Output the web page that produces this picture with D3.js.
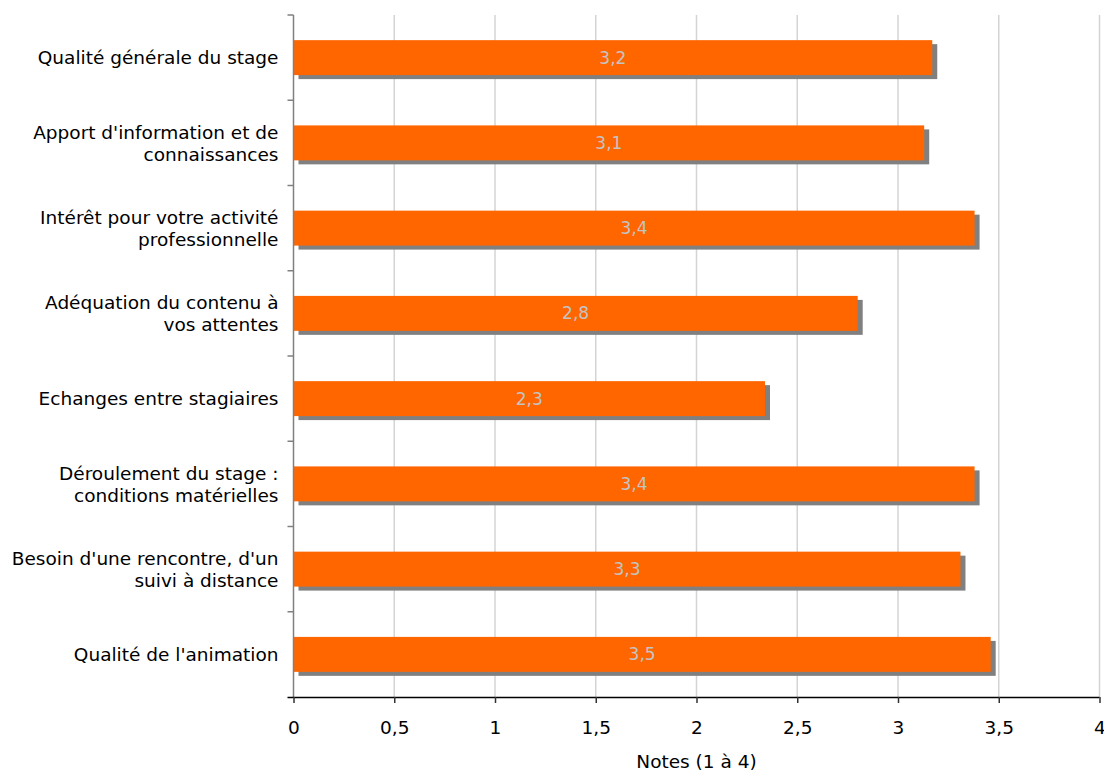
<!DOCTYPE html>
<html>
<head>
<meta charset="utf-8">
<script src="https://cdn.jsdelivr.net/npm/d3@7"></script>
<style>
  html, body { margin: 0; padding: 0; background: #fff; }
  svg { display: block; }
  text { font-family: "DejaVu Sans", Verdana, sans-serif; }
</style>
</head>
<body>
<svg id="chart" width="1104" height="773"></svg>
<script>
// Survey criteria (top to bottom) and their average mark out of 4
const categories = [
  ["Qualité générale du stage"],
  ["Apport d'information et de", "connaissances"],
  ["Intérêt pour votre activité", "professionnelle"],
  ["Adéquation du contenu à", "vos attentes"],
  ["Echanges entre stagiaires"],
  ["Déroulement du stage :", "conditions matérielles"],
  ["Besoin d'une rencontre, d'un", "suivi à distance"],
  ["Qualité de l'animation"]
];
const scores = [3.17, 3.13, 3.38, 2.80, 2.34, 3.38, 3.31, 3.46];
const xTicks = [0, 0.5, 1, 1.5, 2, 2.5, 3, 3.5, 4];
const xTickLabels = ["0", "0,5", "1", "1,5", "2", "2,5", "3", "3,5", "4"];
const xTitle = "Notes (1 à 4)";

const svg = d3.select("#chart");
const plotLeft = 293.5, plotRight = 1099.5, plotTop = 15, plotBottom = 697;
const labelSize = 18.5;

const x = d3.scaleLinear().domain([0, 4]).range([plotLeft, plotRight]);
const y = d3.scaleBand().domain(d3.range(categories.length)).range([plotTop, plotBottom]).paddingInner(0.59).paddingOuter(0.295);
const band = d3.scaleBand().domain(d3.range(categories.length)).range([plotTop, plotBottom]);

// vertical gridlines
svg.append("g").selectAll("line").data(xTicks.slice(1)).join("line")
  .attr("x1", d => x(d)).attr("x2", d => x(d))
  .attr("y1", plotTop).attr("y2", plotBottom)
  .attr("stroke", "#d4d4d4").attr("stroke-width", 1.5);

// bar drop shadows
svg.append("g").selectAll("rect").data(scores).join("rect")
  .attr("x", x(0) + 5).attr("y", (d, i) => y(i) + 4)
  .attr("width", d => x(d) - x(0)).attr("height", y.bandwidth())
  .attr("fill", "#808080");

// bars
svg.append("g").selectAll("rect").data(scores).join("rect")
  .attr("x", x(0)).attr("y", (d, i) => y(i))
  .attr("width", d => x(d) - x(0)).attr("height", y.bandwidth())
  .attr("fill", "#FF6600");

// value labels inside bars
const fmt = v => d3.format(".1f")(v).replace(".", ",");
svg.append("g").selectAll("text").data(scores).join("text")
  .attr("x", d => (x(0) + x(d)) / 2)
  .attr("y", (d, i) => y(i) + y.bandwidth() / 2)
  .attr("dy", "0.36em")
  .attr("text-anchor", "middle")
  .attr("font-size", 17)
  .attr("fill", "#c4c4c4")
  .text(fmt);

// y axis with ticks at band boundaries
const yAxis = svg.append("g");
yAxis.append("line").attr("x1", plotLeft).attr("x2", plotLeft).attr("y1", plotTop).attr("y2", plotBottom)
  .attr("stroke", "#808080").attr("stroke-width", 1.5);
yAxis.selectAll("line.tick").data(d3.range(categories.length)).join("line")
  .attr("class", "tick")
  .attr("x1", plotLeft - 6).attr("x2", plotLeft)
  .attr("y1", i => band(i)).attr("y2", i => band(i))
  .attr("stroke", "#808080").attr("stroke-width", 1.5);

// category labels
const catG = svg.append("g").selectAll("text").data(categories).join("text")
  .attr("text-anchor", "end")
  .attr("font-size", labelSize)
  .attr("fill", "#000");
catG.each(function(lines, i) {
  const cy = band(i) + band.bandwidth() / 2;
  const lh = 22;
  const y0 = cy - (lines.length - 1) * lh / 2;
  d3.select(this).selectAll("tspan").data(lines).join("tspan")
    .attr("x", plotLeft - 15)
    .attr("y", (l, k) => y0 + k * lh)
    .attr("dy", "0.36em")
    .text(l => l);
});

// x axis
const xAxis = d3.axisBottom(x).tickValues(xTicks).tickFormat((d, i) => xTickLabels[i]).tickSize(6).tickSizeOuter(0);
const gx = svg.append("g").attr("transform", `translate(0,${plotBottom})`).call(xAxis);
gx.select(".domain").attr("stroke", "#000").attr("stroke-width", 1.5).attr("d", `M${plotLeft - 6},0.5H${plotRight}`);
gx.selectAll(".tick line").attr("stroke", "#333").attr("stroke-width", 1.5);
gx.selectAll(".tick text").attr("font-size", labelSize).attr("fill", "#000")
  .attr("font-family", "DejaVu Sans, Verdana, sans-serif").attr("y", 24);

svg.append("text")
  .attr("x", (plotLeft + plotRight) / 2).attr("y", 768)
  .attr("text-anchor", "middle").attr("font-size", labelSize)
  .text(xTitle);
</script>
</body>
</html>
